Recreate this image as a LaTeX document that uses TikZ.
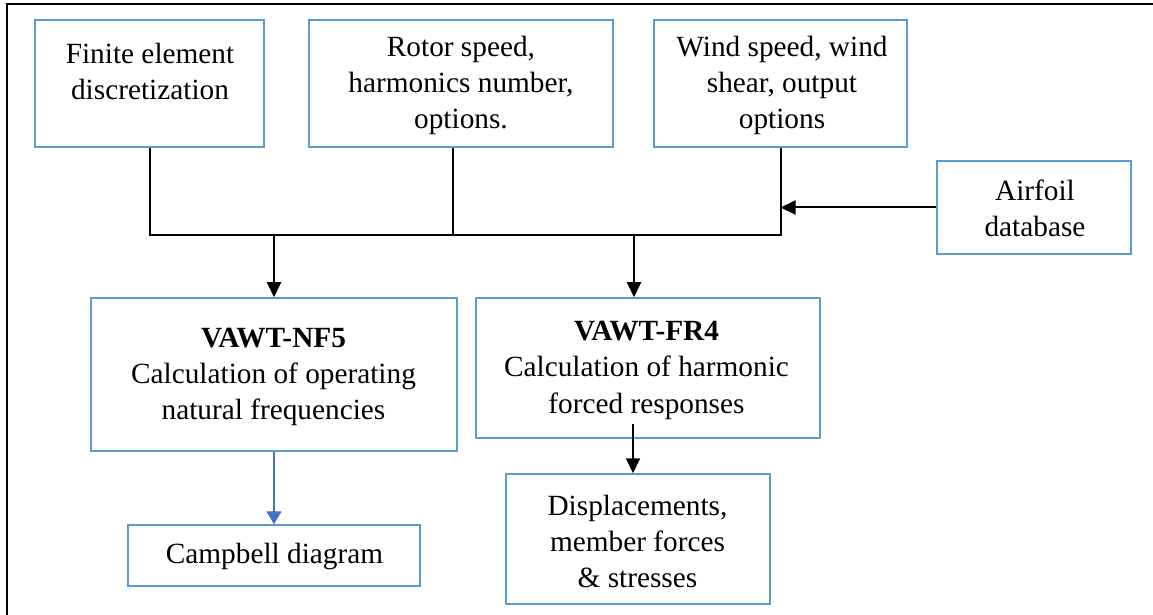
\documentclass[tikz,border=0pt]{standalone}
\usepackage{fontspec}
\setmainfont{Liberation Serif}
\usetikzlibrary{arrows.meta}
\definecolor{boxblue}{RGB}{91,155,213}
\definecolor{arrblue}{RGB}{68,114,196}
\begin{document}
\begin{tikzpicture}[x=0.5pt,y=-0.5pt,
  box/.style={draw=boxblue,line width=0.75pt,rectangle,inner sep=0pt},
  txt/.style={align=center,inner sep=0pt,anchor=base,font=\fontsize{14.65pt}{18pt}\selectfont},
  conn/.style={line width=1pt,black},
  arr/.style={conn,-{Triangle[length=7.5pt,width=7pt]}},
  barr/.style={line width=0.6pt,arrblue,-{Triangle[length=6.5pt,width=7.5pt]}}]
\useasboundingbox (0,0) rectangle (1153,615);
% frame
\draw[line width=1pt] (7,615) -- (7,4) -- (1153,4);
% boxes
\node[box,minimum width=114.5pt,minimum height=63.5pt] (b1) at (149.5,83.5) {};
\node[box,minimum width=152pt,minimum height=63.5pt] (b2) at (461,83.5) {};
\node[box,minimum width=126.5pt,minimum height=63.5pt] (b3) at (780.5,83.5) {};
\node[box,minimum width=97pt,minimum height=46.5pt] (air) at (1034,207.5) {};
\node[box,minimum width=183pt,minimum height=76.5pt] (nf) at (274,374.5) {};
\node[box,minimum width=172pt,minimum height=70pt] (fr) at (648,368) {};
\node[box,minimum width=132pt,minimum height=65pt] (disp) at (638,539) {};
\node[box,minimum width=146pt,minimum height=30.5pt] (camp) at (274,555.5) {};
% texts (anchor base = last line's baseline)
\node[txt] (b1t) at (150,99.5) {Finite element\\discretization};
\node[txt] (b2t) at (461,129) {Rotor speed,\\harmonics number,\\options.};
\node[txt] (b3t) at (782,129) {Wind speed, wind\\shear, output\\options};
\node[txt] (airt) at (1035,237) {Airfoil\\database};
\node[txt] (nft) at (273.5,419) {\textbf{VAWT-NF5}\\Calculation of operating\\natural frequencies};
\node[txt] (frt) at (646.5,413) {\textbf{VAWT-FR4}\\Calculation of harmonic\\forced responses};
\node[txt] (dispt) at (637.5,587) {Displacements,\\member forces\\\& stresses};
\node[txt] (campt) at (274.5,563) {Campbell diagram};
% connectors
\coordinate (busL) at (149.5,235);
\coordinate (busR) at (780.5,235);
\coordinate (t2) at (634,235);
\coordinate (f1) at (633,424);
\draw[conn] (b1.south) -- (busL) -- (busR) -- (b3.south);
\draw[conn] ([xshift=-4pt]b2.south) -- ([xshift=-4pt]b2.south |- busL);
\draw[arr] (air.west) -- (air.west -| b3.south);
\draw[arr] (nf.north |- busL) -- (nf.north);
\draw[arr] (t2) -- (t2 |- fr.north);
\draw[arr] (f1) -- (f1 |- disp.north);
\draw[barr] (nf.south) -- (camp.north);
\end{tikzpicture}
\end{document}
